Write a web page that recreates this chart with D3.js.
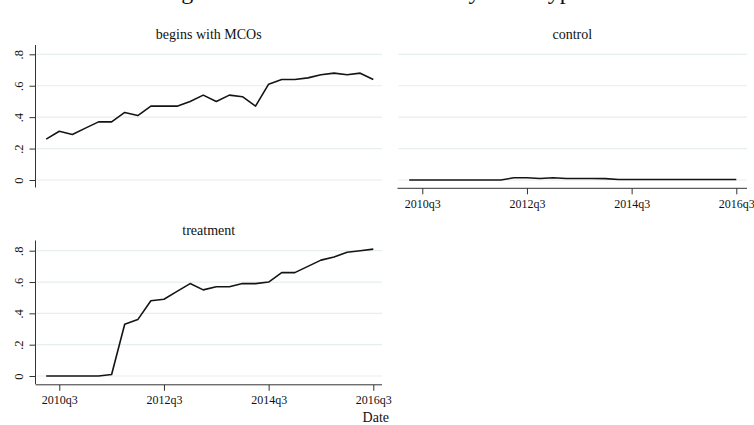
<!DOCTYPE html>
<html>
<head>
<meta charset="utf-8">
<script src="https://cdn.jsdelivr.net/npm/d3@7/dist/d3.min.js"></script>
<style>
  html, body { margin: 0; padding: 0; background: #fff; }
  svg { display: block; }
  text { font-family: "Liberation Serif", "Times New Roman", serif; fill: #111; }
</style>
</head>
<body>
<svg id="chart" width="754" height="425"></svg>
<script>
// Quarterly periods on the x axis
const quarters = [
  "2010q2","2010q3","2010q4","2011q1","2011q2","2011q3","2011q4","2012q1",
  "2012q2","2012q3","2012q4","2013q1","2013q2","2013q3","2013q4","2014q1",
  "2014q2","2014q3","2014q4","2015q1","2015q2","2015q3","2015q4","2016q1",
  "2016q2","2016q3"
];
const xTickLabels = ["2010q3", "2012q3", "2014q3", "2016q3"];
const yTicks = [0, 0.2, 0.4, 0.6, 0.8];

const panelTitles = ["begins with MCOs", "control", "treatment"];

// Share enrolled, one value per quarter
const mcoSeries = [
  0.26, 0.31, 0.29, 0.33, 0.37, 0.37, 0.43, 0.41, 0.47, 0.47, 0.47, 0.50, 0.54,
  0.50, 0.54, 0.53, 0.47, 0.61, 0.64, 0.64, 0.65, 0.67, 0.68, 0.67, 0.68, 0.64
];
const controlSeries = [
  0.000, 0.000, 0.000, 0.000, 0.000, 0.000, 0.000, 0.000, 0.014, 0.014, 0.010, 0.014, 0.010,
  0.010, 0.010, 0.009, 0.003, 0.003, 0.003, 0.003, 0.003, 0.003, 0.003, 0.003, 0.003, 0.003
];
const treatmentSeries = [
  0.00, 0.00, 0.00, 0.00, 0.00, 0.01, 0.33, 0.36, 0.48, 0.49, 0.54, 0.59, 0.55,
  0.57, 0.57, 0.59, 0.59, 0.60, 0.66, 0.66, 0.70, 0.74, 0.76, 0.79, 0.80, 0.81
];

const titleText = "Mean Managed Care Share of Enrollees by Plan Type";
const xAxisTitle = "Date";

const svg = d3.select("#chart");

// Title sits above the visible area; only its descenders reach the top edge
svg.append("text")
  .attr("x", 66).attr("y", -1.5)
  .attr("font-size", 24)
  .text(titleText);

// Panel layout (column / row frames)
const cols = [
  { left: 35.5, right: 382, x0: 46.2, x1: 373.3 },
  { left: 397.5, right: 747, x0: 409.2, x1: 736.3 }
];
const rows = [
  { top: 45, bottom: 187.5, zero: 180, top08: 54.3, titleY: 39 },
  { top: 240.5, bottom: 384, zero: 376, top08: 250.7, titleY: 235 }
];

const panels = [
  { title: panelTitles[0], values: mcoSeries, col: 0, row: 0, yAxis: true, xAxis: false },
  { title: panelTitles[1], values: controlSeries, col: 1, row: 0, yAxis: false, xAxis: true },
  { title: panelTitles[2], values: treatmentSeries, col: 0, row: 1, yAxis: true, xAxis: true }
];

const fmtY = v => v === 0 ? "0" : d3.format(".1f")(v).replace(/^0/, "");
const tickIndex = xTickLabels.map(l => quarters.indexOf(l));

panels.forEach(p => {
  const c = cols[p.col], r = rows[p.row];
  const x = d3.scaleLinear().domain([0, quarters.length - 1]).range([c.x0, c.x1]);
  const y = d3.scaleLinear().domain([0, 0.8]).range([r.zero, r.top08]);
  const g = svg.append("g");

  // Panel subtitle
  g.append("text")
    .attr("x", (c.left + c.right) / 2).attr("y", r.titleY)
    .attr("text-anchor", "middle").attr("font-size", 14)
    .text(p.title);

  // Horizontal gridlines
  g.append("g").selectAll("line").data(yTicks).join("line")
    .attr("x1", c.left + 1).attr("x2", c.right)
    .attr("y1", d => y(d)).attr("y2", d => y(d))
    .attr("stroke", "#e6eef0").attr("stroke-width", 1.2);

  if (p.yAxis) {
    const ya = g.append("g").attr("transform", `translate(${c.left},0)`)
      .call(d3.axisLeft(y).tickValues(yTicks).tickFormat(fmtY).tickSize(6).tickSizeOuter(0));
    ya.select(".domain").remove();
    ya.selectAll(".tick line").attr("stroke", "#333");
    ya.selectAll(".tick text")
      .attr("transform", "rotate(-90)")
      .attr("x", 0).attr("y", -13).attr("dy", 0)
      .attr("text-anchor", "middle")
      .attr("font-size", 12.5)
      .attr("font-family", '"Liberation Serif", "Times New Roman", serif')
      .attr("fill", "#111");
    g.append("line")
      .attr("x1", c.left).attr("x2", c.left)
      .attr("y1", r.top).attr("y2", r.bottom)
      .attr("stroke", "#333").attr("stroke-width", 1);
  }

  if (p.xAxis) {
    const axisY = r.bottom + 0.8;
    const xa = g.append("g").attr("transform", `translate(0,${axisY})`)
      .call(d3.axisBottom(x).tickValues(tickIndex).tickFormat(i => quarters[i]).tickSize(6).tickSizeOuter(0));
    xa.select(".domain").remove();
    xa.selectAll(".tick line").attr("stroke", "#333");
    xa.selectAll(".tick text")
      .attr("y", 11).attr("dy", "0.71em")
      .attr("font-size", 12)
      .attr("font-family", '"Liberation Serif", "Times New Roman", serif')
      .attr("fill", "#111");
    g.append("line")
      .attr("x1", c.left).attr("x2", c.right)
      .attr("y1", axisY).attr("y2", axisY)
      .attr("stroke", "#333").attr("stroke-width", 1);
  }

  // Series line
  g.append("path")
    .datum(p.values)
    .attr("fill", "none")
    .attr("stroke", "#141414")
    .attr("stroke-width", 1.6)
    .attr("stroke-linejoin", "round")
    .attr("d", d3.line().x((d, i) => x(i)).y(d => y(d)));
});

// x-axis title, bottom-right of the lower panel
svg.append("text")
  .attr("x", 389).attr("y", 422)
  .attr("text-anchor", "end").attr("font-size", 14)
  .text(xAxisTitle);
</script>
</body>
</html>
